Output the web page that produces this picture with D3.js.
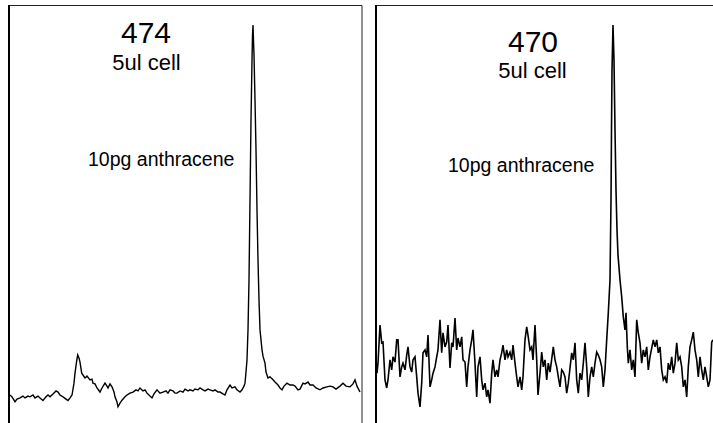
<!DOCTYPE html>
<html>
<head>
<meta charset="utf-8">
<script src="https://cdn.jsdelivr.net/npm/d3@7"></script>
<style>
html,body{margin:0;padding:0;background:#fff;}
svg{display:block;font-family:"Liberation Sans",Arial,sans-serif;}
</style>
</head>
<body>
<svg id="chart" width="713" height="423"></svg>
<script>
// Panel titles / annotations
const panelIds = ["474", "470"];
const cellLabels = ["5ul cell", "5ul cell"];
const peakLabels = ["10pg anthracene", "10pg anthracene"];

// Left trace (474): time (s) and detector signal (% of peak)
const leftTime = [0,2,5,7,10,13,15,18,20,23,25,28,30,33,36,38,40,43,46,48,50,53,56,58,60,62,64,65,66.5,67.7,69,70,71.7,73,75,77,80,82,83,85,87,90,92,95,97,98,100,102,104,105,107,108,110,112,115,117,120,123,126,128,130,133,135,137,140,142,144,147,150,153,156,158,160,163,165,167,170,173,175,178,180,183,185,188,190,193,195,198,200,203,205,208,210,213,215,217,220,222,225,227,230,232,234,235,236,237,238,239,240,241,242,242.5,243,243.5,244,245,246,247,248,249,250,252,253,255,256,258,260,263,265,268,270,272,274,277,280,283,285,288,290,293,295,298,300,303,306,310,313,317,320,323,326,330,333,336,340,343,345,347,350];
const leftSignal = [0,-0.5,-1.8,-1.1,-0.8,-0.3,-0.8,-0.3,-0.5,0,-0.8,-0.3,-0.8,-1.5,-0.5,0,-0.5,0.3,1.1,0.8,0,-0.5,-1.1,-1.5,-0.8,0,3.2,5.9,8.9,10.8,10.0,8.9,5.9,5.4,4.6,5.1,4.1,4.3,3.2,3.0,1.9,0.8,1.9,3.2,2.4,1.9,3.0,2.2,0.8,-0.5,-1.9,-3.2,-2.2,-1.4,-0.5,0,0.5,0.8,1.4,1.1,1.9,1.1,1.4,0.5,-0.3,-0.8,0.3,1.4,0.5,0.8,1.1,0.5,1.4,1.1,0.5,0.5,1.1,0.8,1.6,1.1,1.4,1.1,1.6,1.4,1.9,1.4,1.1,1.6,1.4,1.1,1.4,0.8,0.8,0.3,0,1.4,2.7,1.9,2.2,1.4,0.8,1.4,2.4,3.2,6.2,9.5,17.6,31.1,52.7,74.3,90.5,97.3,100,95.9,91.9,79.7,66.2,50,36.5,25.7,17.6,12.2,10.5,8.6,6.2,4.6,4.9,4.1,3.5,2.7,1.9,1.4,2.4,3.2,2.7,2.7,2.4,1.4,1.6,3.2,3.0,3.5,2.7,2.7,1.9,1.4,1.9,2.2,2.4,2.2,1.6,2.4,3.2,2.4,2.2,3.0,4.1,2.4,0.8];

// Right trace (470): time (s) and detector signal (% of peak)
const rightTime = [0,1,3,4.7,6,8,9.7,11,13,14.7,16,18,19.7,21,23,24.7,26,28,29.7,31,33,34.7,36,38,39.7,41,43,44.7,46,48,49.7,51,53,54.7,56,58,59.7,61,63,64.7,66,68,69.7,71,73,74.7,76,78,79.7,81,83,84.7,86,88,89.7,91,93,94.7,96,98,99.7,101,103,104.7,106,108,109.7,111,113,114.7,116,118,119.7,121,123,124.7,126,128,129.7,131,133,134.7,136,138,139.7,141,143,144.7,146,148,149.7,151,153,154.7,156,158,159.7,161,163,164.7,166.3,168,169.7,171.3,173,176.3,178,179.7,181.3,183,184.7,186.3,188,189.7,191.3,194.7,196.3,198,199.7,201.3,203,204.7,206.3,208,209.7,211.3,213,214.7,216.3,218,219.7,221.3,223,224.7,226.3,228,229.7,231.3,233,234,234.5,235,236,237,238,239,240,241,243,244.7,246.3,248,249,250.3,251.3,253,254.7,256.3,258,259.7,261.3,263,264.7,266.3,268,269.7,271.3,273,276.3,278,279.7,281.3,283,284.7,286.3,288,289.7,291.3,293,294.7,296.3,298,299.7,301.3,303,304.7,306.3,308,309.7,311.3,313,314.7,316.3,318,319.7,321.3,323,324.7,326.3,328,329.7,331.3,333,334.7,336];
const rightSignal = [5.9,8.6,18.9,14.1,14.3,4.1,1.9,4.1,9.5,6.8,10.3,8.9,14.9,14.9,4.9,7.6,8.6,6.8,10.8,13.0,7.6,6.2,9.5,10.3,4.9,0.5,-3.2,3.2,11.4,12.2,10.3,16.2,2.2,4.1,5.9,7.6,10.3,12.2,20.3,11.4,16.8,13.0,14.3,18.9,7.3,14.1,13.0,20.8,12.2,15.4,13.0,15.7,9.5,8.9,2.2,7.6,12.2,14.9,17.6,8.6,-0.5,7.6,10.3,4.1,1.4,3.2,-0.5,1.4,-2.2,5.9,9.5,4.9,6.8,4.9,9.5,11.4,13.5,9.5,12.2,10.3,11.6,9.5,13.5,8.6,4.9,2.2,4.9,1.4,4.9,14.9,18.4,16.2,12.2,13.0,9.5,18.9,9.5,0,5.9,11.6,7.6,9.5,4.1,8.6,6.2,13.0,9.5,7.6,4.9,2.2,6.8,6.2,4.9,0.5,3.2,11.4,9.5,14.1,4.1,0.5,5.9,4.1,8.6,14.1,7.6,-0.5,4.9,7.6,4.9,8.6,11.6,10.8,9.5,7.6,2.2,6.8,14.9,22.2,31.1,52.7,71.6,87.8,100,90.5,71.6,55.4,44.6,37.8,31.1,26.5,21.1,17.6,22.2,13.0,8.6,12.2,6.8,9.5,4.9,20.3,16.8,14.1,8.6,12.2,10.3,13.0,6.8,10.3,14.9,13.0,14.9,11.4,13.0,6.8,4.1,4.9,3.2,8.6,6.8,10.3,5.9,8.6,14.1,9.5,10.3,7.6,2.2,4.1,-0.5,7.6,13.0,14.9,17.0,12.2,9.5,4.9,10.3,6.8,4.1,7.6,4.9,2.2,4.1,14.3,14.9];

const svg = d3.select("#chart");

const yScale = d3.scaleLinear().domain([-10, 100]).range([432, 25]);

const panels = [
  {left: 9, right: 362, traceStart: 10, time: leftTime, signal: leftSignal, id: panelIds[0], cell: cellLabels[0], peak: peakLabels[0],
   idX: 146, idY: 43, cellX: 146.5, cellY: 70, peakX: 88, peakY: 166, sw: 1.4},
  {left: 376, right: 729, traceStart: 377, time: rightTime, signal: rightSignal, id: panelIds[1], cell: cellLabels[1], peak: peakLabels[1],
   idX: 533, idY: 52, cellX: 532.5, cellY: 78, peakX: 448, peakY: 172, sw: 1.6}
];

panels.forEach(p => {
  const x = d3.scaleLinear().domain([0, 350]).range([p.traceStart, p.traceStart + 350]);
  const g = svg.append("g");
  // frame
  g.append("path")
    .attr("d", `M${p.left},430 V5.5 H${p.right} V430`)
    .attr("fill", "none").attr("stroke", "#222").attr("stroke-width", 1);
  g.append("line")
    .attr("x1", p.left).attr("x2", p.left).attr("y1", 5).attr("y2", 430)
    .attr("stroke", "#000").attr("stroke-width", 2);

  const data = p.time.map((t, i) => [t, p.signal[i]]);
  const line = d3.line().x(d => x(d[0])).y(d => yScale(d[1]));
  g.append("path")
    .datum(data)
    .attr("d", line)
    .attr("fill", "none")
    .attr("stroke", "#000")
    .attr("stroke-width", p.sw)
    .attr("stroke-linejoin", "miter");

  g.append("text").attr("x", p.idX).attr("y", p.idY).attr("text-anchor", "middle")
    .attr("font-size", 30).attr("fill", "#000").text(p.id);
  g.append("text").attr("x", p.cellX).attr("y", p.cellY).attr("text-anchor", "middle")
    .attr("font-size", 22).attr("fill", "#000").text(p.cell);
  g.append("text").attr("x", p.peakX).attr("y", p.peakY).attr("text-anchor", "start")
    .attr("font-size", 19.5).attr("fill", "#000").text(p.peak);
});
</script>
</body>
</html>
